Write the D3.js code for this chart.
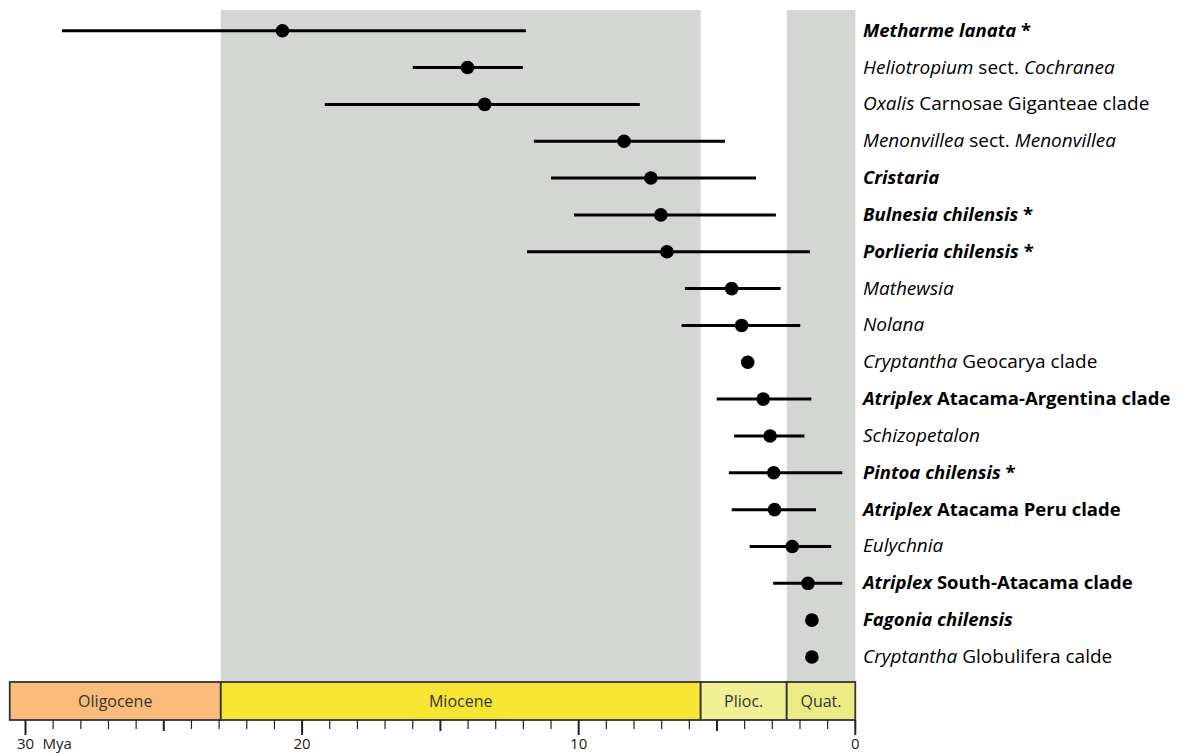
<!DOCTYPE html>
<html>
<head>
<meta charset="utf-8">
<script src="https://cdn.jsdelivr.net/npm/d3@7"></script>
<style>
  body { margin: 0; background: #fff; }
  svg { display: block; }
</style>
</head>
<body>
<div id="chart"></div>
<script>
// ======= data (Mya)
var taxa = [
  [["Metharme lanata", 1], [" *", 0]],
  [["Heliotropium", 1], [" sect. ", 0], ["Cochranea", 1]],
  [["Oxalis", 1], [" Carnosae Giganteae clade", 0]],
  [["Menonvillea", 1], [" sect. ", 0], ["Menonvillea", 1]],
  [["Cristaria", 1]],
  [["Bulnesia chilensis", 1], [" *", 0]],
  [["Porlieria chilensis", 1], [" *", 0]],
  [["Mathewsia", 1]],
  [["Nolana", 1]],
  [["Cryptantha", 1], [" Geocarya clade", 0]],
  [["Atriplex", 1], [" Atacama-Argentina clade", 0]],
  [["Schizopetalon", 1]],
  [["Pintoa chilensis", 1], [" *", 0]],
  [["Atriplex", 1], [" Atacama Peru clade", 0]],
  [["Eulychnia", 1]],
  [["Atriplex", 1], [" South-Atacama clade", 0]],
  [["Fagonia chilensis", 1]],
  [["Cryptantha", 1], [" Globulifera calde", 0]]
];
var boldRows = [1, 0, 0, 0, 1, 1, 1, 0, 0, 0, 1, 0, 1, 1, 0, 1, 1, 0];
var ages  = [20.71, 14.02, 13.40, 8.36, 7.39, 7.03, 6.81, 4.47, 4.11, 3.89, 3.33, 3.08, 2.95, 2.92, 2.28, 1.71, 1.57, 1.57];
var lower = [28.68, 16.00, 19.18, 11.62, 11.00, 10.17, 11.87, 6.16, 6.28, null, 5.01, 4.38, 4.57, 4.47, 3.82, 2.97, null, null];
var upper = [11.91, 12.02, 7.79, 4.71, 3.59, 2.87, 1.64, 2.70, 1.99, null, 1.59, 1.84, 0.47, 1.42, 0.87, 0.47, null, null];

var epochs = ["Oligocene", "Miocene", "Plioc.", "Quat."];
var epochStart = [30.57, 22.94, 5.59, 2.48];
var epochEnd   = [22.94, 5.59, 2.48, 0];
var epochFill  = ["#fbbb7b", "#f6e633", "#f2f094", "#edeb86"];
var shadedEpochs = [1, 3];

var majorTicks = [30, 20, 10, 0];

// ======= svg
var W = 1183, H = 753;
var font = "'Open Sans', 'Noto Sans', sans-serif";
var svg = d3.select("#chart")
  .append("svg")
  .attr("width", W)
  .attr("height", H);

var x = d3.scaleLinear().domain([30, 0]).range([25.5, 855.3]);
var y = d3.scalePoint()
  .domain(d3.range(taxa.length))
  .range([30.7, 657]);

var barTop = 682, barBot = 720;

// ======= gray bands
svg.selectAll("rect.band")
  .data(shadedEpochs)
  .enter()
  .append("rect")
  .attr("class", "band")
  .attr("x", function(i) { return x(epochStart[i]); })
  .attr("width", function(i) { return x(epochEnd[i]) - x(epochStart[i]); })
  .attr("y", 10)
  .attr("height", barTop - 10)
  .attr("fill", "#d4d6d3");

// ======= error bars
var rows = d3.range(taxa.length);
svg.selectAll("line.err")
  .data(rows.filter(function(i) { return lower[i] !== null; }))
  .enter()
  .append("line")
  .attr("class", "err")
  .attr("x1", function(i) { return x(lower[i]); })
  .attr("x2", function(i) { return x(upper[i]); })
  .attr("y1", function(i) { return y(i); })
  .attr("y2", function(i) { return y(i); })
  .attr("stroke", "#000")
  .attr("stroke-width", 3);

svg.selectAll("circle.age")
  .data(rows)
  .enter()
  .append("circle")
  .attr("class", "age")
  .attr("cx", function(i) { return x(ages[i]); })
  .attr("cy", function(i) { return y(i); })
  .attr("r", 6.8)
  .attr("fill", "#000");

// ======= labels
var labels = svg.selectAll("text.taxon")
  .data(rows)
  .enter()
  .append("text")
  .attr("class", "taxon")
  .attr("x", 863)
  .attr("y", function(i) { return y(i) + 6; })
  .attr("font-family", font)
  .attr("font-size", function(i) { return boldRows[i] ? "18.5px" : "19px"; })
  .attr("fill", "#000")
  .attr("font-weight", function(i) { return boldRows[i] ? "bold" : "normal"; });

labels.selectAll("tspan")
  .data(function(i) { return taxa[i]; })
  .enter()
  .append("tspan")
  .style("white-space", "pre")
  .attr("font-style", function(d) { return d[1] ? "italic" : "normal"; })
  .text(function(d) { return d[0]; });

// ======= epoch bar
var eg = svg.selectAll("g.epoch")
  .data(d3.range(epochs.length))
  .enter()
  .append("g")
  .attr("class", "epoch");

eg.append("rect")
  .attr("x", function(i) { return x(epochStart[i]); })
  .attr("width", function(i) { return x(epochEnd[i]) - x(epochStart[i]); })
  .attr("y", barTop)
  .attr("height", barBot - barTop)
  .attr("fill", function(i) { return epochFill[i]; })
  .attr("stroke", "#333")
  .attr("stroke-width", 1.8);

eg.append("text")
  .attr("x", function(i) { return (x(epochStart[i]) + x(epochEnd[i])) / 2; })
  .attr("y", (barTop + barBot) / 2 + 5.5)
  .attr("text-anchor", "middle")
  .attr("font-family", font)
  .attr("font-size", "16px")
  .attr("fill", "#333")
  .text(function(i) { return epochs[i]; });

// ======= axis ticks
var ag = svg.append("g");
ag.selectAll("line.tick")
  .data(d3.range(0, 31))
  .enter()
  .append("line")
  .attr("class", "tick")
  .attr("x1", function(d) { return x(d); })
  .attr("x2", function(d) { return x(d); })
  .attr("y1", barBot)
  .attr("y2", function(d) {
    if (d % 10 === 0) return barBot + 15;
    if (d % 5 === 0) return barBot + 11;
    return barBot + 9;
  })
  .attr("stroke", "#222")
  .attr("stroke-width", function(d) { return d % 5 === 0 ? 2 : 1.2; });

ag.selectAll("text.tl")
  .data(majorTicks)
  .enter()
  .append("text")
  .attr("class", "tl")
  .attr("x", function(d) { return x(d); })
  .attr("y", 749)
  .attr("text-anchor", "middle")
  .attr("font-family", font)
  .attr("font-size", "15px")
  .attr("fill", "#222")
  .text(function(d) { return d; });

ag.append("text")
  .attr("x", x(30) + 17)
  .attr("y", 749)
  .attr("font-family", font)
  .attr("font-size", "15px")
  .attr("fill", "#222")
  .text("Mya");
</script>
</body>
</html>
